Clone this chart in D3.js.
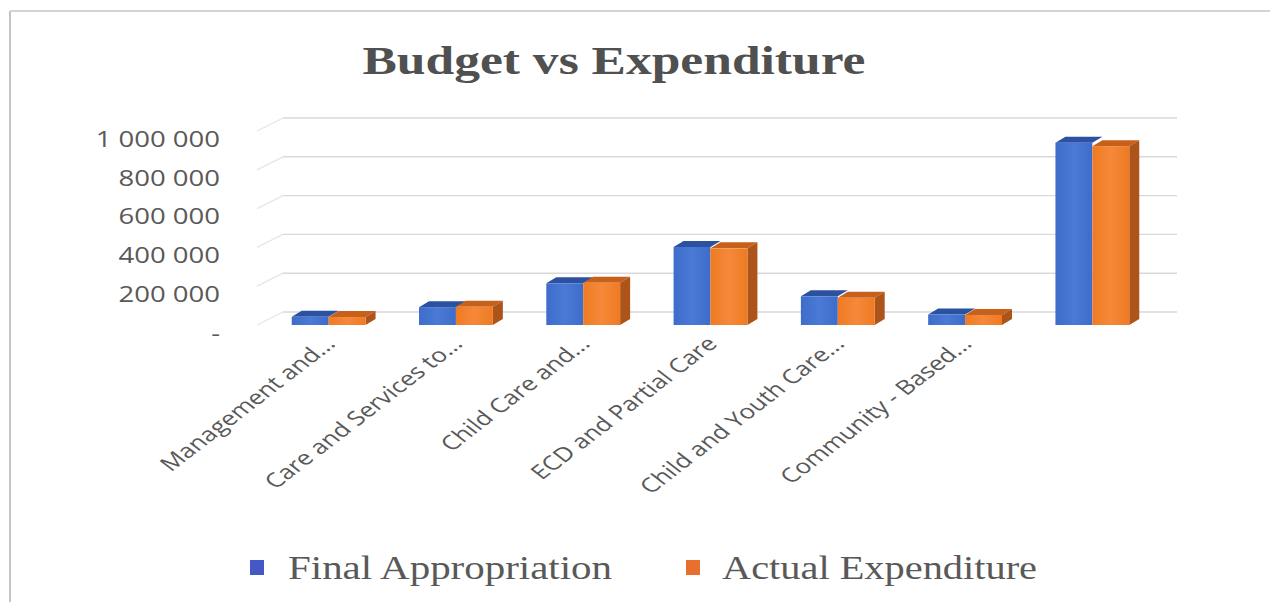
<!DOCTYPE html>
<html>
<head>
<meta charset="utf-8">
<script src="https://cdn.jsdelivr.net/npm/d3@7"></script>
<style>
  html, body { margin: 0; padding: 0; background: #ffffff; }
  svg { display: block; }
</style>
</head>
<body>
<svg id="chart" width="1270" height="602"></svg>
<script>
// ---- data ----
const categories = ["Management and...", "Care and Services to...", "Child Care and...", "ECD and Partial Care", "Child and Youth Care...", "Community - Based...", ""];
const seriesNames = ["Final Appropriation", "Actual Expenditure"];
const finalAppropriation = [42000, 92000, 215000, 402000, 148000, 54000, 940000];
const actualExpenditure  = [41000, 94000, 218000, 395000, 140000, 52000, 922000];
const yTicks = [0, 200000, 400000, 600000, 800000, 1000000];
const yTickLabels = ["-", "200 000", "400 000", "600 000", "800 000", "1 000 000"];
const titleText = "Budget vs Expenditure";

// ---- styles ----
const SX = 1.25; // horizontal text stretch
const colors = {
  blueFront: "#3d6cca", blueFront2: "#4a7ad6", blueTop: "#2b51a0", blueSide: "#244487",
  orangeFront: "#ef7a22", orangeFront2: "#f5893a", orangeTop: "#c6601b", orangeSide: "#ad541a",
  legendBlue: "#4658c6", legendOrange: "#e8702f"
};
const depth = { dx: 10, dy: -6 };
const wall = { dx: 19, dy: -13 };

const svg = d3.select("#chart");

// gradients
const defs = svg.append("defs");
function grad(id, c1, c2) {
  const g = defs.append("linearGradient").attr("id", id).attr("x1", "0").attr("x2", "1").attr("y1", "0").attr("y2", "0");
  g.append("stop").attr("offset", "0%").attr("stop-color", c1);
  g.append("stop").attr("offset", "50%").attr("stop-color", c2);
  g.append("stop").attr("offset", "100%").attr("stop-color", c1);
}
grad("gBlue", colors.blueFront, colors.blueFront2);
grad("gOrange", colors.orangeFront, colors.orangeFront2);

// frame
svg.append("line").attr("x1", 10).attr("y1", 11).attr("x2", 10).attr("y2", 602).attr("stroke", "#c4c4c4").attr("stroke-width", 2);
svg.append("line").attr("x1", 10).attr("y1", 11).attr("x2", 1270).attr("y2", 11).attr("stroke", "#d4d4d4").attr("stroke-width", 2);

// scales
const x = d3.scaleBand().domain(categories.map((c, i) => i)).range([265, 1156]).paddingInner(0.42).paddingOuter(0.21);
const xs = d3.scaleBand().domain(seriesNames).range([0, x.bandwidth()]);
const y = d3.scaleLinear().domain([0, 1000000]).range([325, 131]);

// back wall gridlines + side wall segments
const gridG = svg.append("g");
const backX0 = 265 + wall.dx - 1, backX1 = 1156 + wall.dx + 2;
yTicks.forEach(t => {
  const yb = y(t) + wall.dy;
  gridG.append("line").attr("x1", backX0).attr("x2", backX1).attr("y1", yb).attr("y2", yb)
    .attr("stroke", "#d9d9d9").attr("stroke-width", 1.4);
  gridG.append("line").attr("x1", backX0 - 26).attr("y1", yb + 13).attr("x2", backX0).attr("y2", yb)
    .attr("stroke", "#e6e6e6").attr("stroke-width", 1.3);
});

// y labels
const yAx = svg.append("g");
yTicks.forEach((t, i) => {
  yAx.append("text")
    .attr("transform", `translate(220,${y(t) + 7}) scale(${SX},1)`)
    .attr("text-anchor", "end").attr("dominant-baseline", "central")
    .attr("font-family", "'Open Sans', sans-serif").attr("font-size", 22)
    .attr("fill", "#595959").text(yTickLabels[i]);
});

// bars
const barsG = svg.append("g");
function drawBar(x0, w, v, front, top, side, drawSide) {
  const yt = y(v), yb = y(0);
  const x1 = x0 + w;
  barsG.append("polygon")
    .attr("points", [[x0, yt], [x0 + depth.dx, yt + depth.dy], [x1 + depth.dx, yt + depth.dy], [x1, yt]].join(" "))
    .attr("fill", top);
  if (drawSide) {
    barsG.append("polygon")
      .attr("points", [[x1, yt], [x1 + depth.dx, yt + depth.dy], [x1 + depth.dx, yb + depth.dy], [x1, yb]].join(" "))
      .attr("fill", side);
  }
  barsG.append("rect").attr("x", x0).attr("y", yt).attr("width", w).attr("height", yb - yt).attr("fill", front);
}
categories.forEach((c, i) => {
  const gx = x(i);
  drawBar(gx + xs(seriesNames[0]), xs.bandwidth(), finalAppropriation[i], "url(#gBlue)", colors.blueTop, colors.blueSide, false);
  drawBar(gx + xs(seriesNames[1]), xs.bandwidth(), actualExpenditure[i], "url(#gOrange)", colors.orangeTop, colors.orangeSide, true);
});

// category labels
const xAx = svg.append("g");
categories.forEach((c, i) => {
  const cx = x(i) + x.bandwidth() / 2;
  xAx.append("text")
    .attr("transform", `translate(${cx + 8},${345}) scale(1.3,1) rotate(-45)`)
    .attr("text-anchor", "end")
    .attr("font-family", "'Open Sans', sans-serif").attr("font-size", 20)
    .attr("fill", "#595959").text(c);
});

// title
svg.append("text").attr("x", 614).attr("y", 74).attr("text-anchor", "middle")
  .attr("font-family", "'Liberation Serif', serif").attr("font-weight", "bold").attr("font-size", 40)
  .attr("fill", "#505050").attr("textLength", 503).attr("lengthAdjust", "spacingAndGlyphs")
  .text(titleText);

// legend
const legend = [
  { name: seriesNames[0], color: colors.legendBlue, sx: 250, tx: 288, tl: 324 },
  { name: seriesNames[1], color: colors.legendOrange, sx: 686, tx: 722, tl: 315 }
];
legend.forEach(l => {
  svg.append("rect").attr("x", l.sx).attr("y", 560).attr("width", 14).attr("height", 15).attr("fill", l.color);
  svg.append("text").attr("x", l.tx).attr("y", 579)
    .attr("font-family", "'Liberation Serif', serif").attr("font-size", 33)
    .attr("fill", "#595959").attr("textLength", l.tl).attr("lengthAdjust", "spacingAndGlyphs")
    .text(l.name);
});
</script>
</body>
</html>
